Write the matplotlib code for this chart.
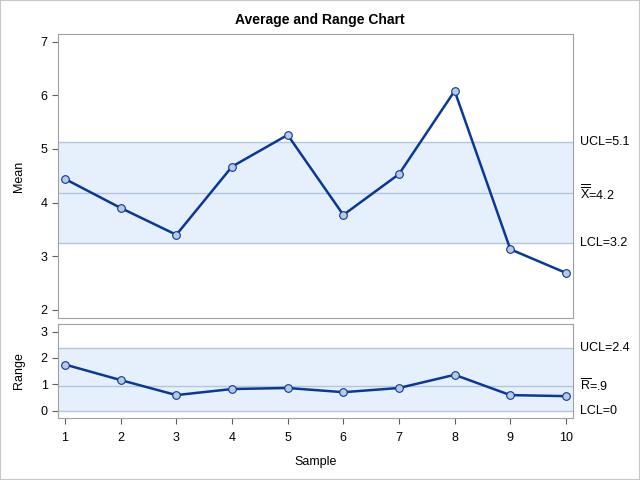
import numpy as np
import matplotlib
matplotlib.use('Agg')
import matplotlib.pyplot as plt
from matplotlib.patches import Rectangle

samples = [1, 2, 3, 4, 5, 6, 7, 8, 9, 10]
means = [4.44, 3.90, 3.40, 4.67, 5.26, 3.77, 4.53, 6.08, 3.13, 2.69]
ranges = [1.75, 1.16, 0.59, 0.82, 0.86, 0.70, 0.86, 1.36, 0.59, 0.55]
mean_limits = [3.25, 4.18, 5.13]   # LCL, center, UCL
range_limits = [0.0, 0.93, 2.37]
mean_labels = ['LCL=3.2', r'$\overline{\overline{\mathrm{X}}}$=4.2', 'UCL=5.1']
range_labels = ['LCL=0', r'$\overline{\mathrm{R}}$=.9', 'UCL=2.4']

plt.rcParams['font.family'] = ['Liberation Sans', 'DejaVu Sans']
plt.rcParams['font.size'] = 9
plt.rcParams['mathtext.fontset'] = 'custom'
plt.rcParams['mathtext.rm'] = 'Liberation Sans'

line_c = '#0b3896'
band_c = '#e6f0fd'
ref_c = '#b4c6dc'
frame_c = '#a0a0a0'

fig = plt.figure(figsize=(6.4, 4.8), dpi=100)
fig.patches.append(Rectangle((0, 0), 1, 1, transform=fig.transFigure, fill=False,
                             edgecolor='#c8c8c8', linewidth=1.5))

ax1 = fig.add_axes([58/640, 1-318/480, 515/640, 284/480])
ax2 = fig.add_axes([58/640, 1-418/480, 515/640, 94/480])


def panel(ax, y, limits, labels, ylim, yticks, ylabel):
    ax.axhspan(limits[0], limits[2], color=band_c, zorder=0, lw=0)
    for v, lab in zip(limits, labels):
        ax.axhline(v, color=ref_c, lw=1, zorder=1)
        ax.text(1.013, v, lab, transform=ax.get_yaxis_transform(), va='center',
                ha='left', fontsize=9)
    ax.plot(samples, y, color=line_c, lw=1.8, marker='o', ms=5.5,
            mfc='#b8c9e3', mec=line_c, mew=0.8, zorder=3)
    ax.set_xlim(0.874, 10.126)
    ax.set_ylim(*ylim)
    ax.set_yticks(yticks)
    ax.set_xticks(samples)
    ax.set_ylabel(ylabel, fontsize=9)
    for s in ax.spines.values():
        s.set_color(frame_c)
    ax.tick_params(colors='#606060', labelcolor='black', length=4)
    ax.yaxis.set_label_coords(-0.064, 0.5)


panel(ax1, means, mean_limits, mean_labels, (1.85, 7.14), [2, 3, 4, 5, 6, 7], 'Mean')
panel(ax2, ranges, range_limits, range_labels, (-0.28, 3.29), [0, 1, 2, 3], 'Range')
ax1.tick_params(axis='x', bottom=False, labelbottom=False)
ax2.tick_params(axis='x', pad=6)
ax2.set_xlabel('Sample', fontsize=9, labelpad=9)

fig.suptitle('Average and Range Chart', y=1-20/480, va='center', fontsize=10, fontweight='bold')

fig.savefig('out.png', dpi=100)
